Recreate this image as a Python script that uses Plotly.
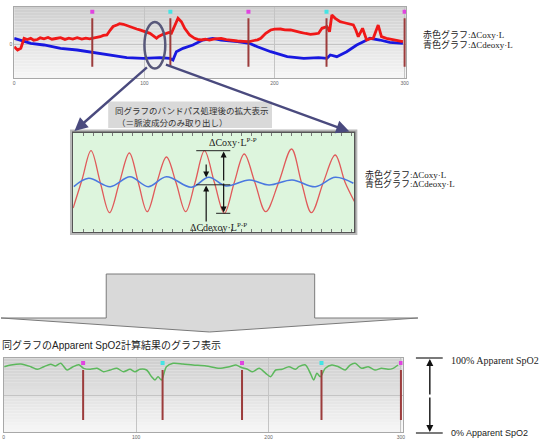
import plotly.graph_objects as go

W, H = 544, 441


def PX(x):
    return x / W


def PY(y):
    return 1 - y / H


# ---------------- data ----------------
event_x = [60, 120, 180, 240, 300]
event_kind = ["magenta", "cyan", "magenta", "cyan", "magenta"]

x_tick_vals = [0, 100, 200, 300]
x_tick_text = ["0", "100", "200", "300"]

# top chart: raw ΔCoxy·L (red) and ΔCdeoxy·L (blue)
top_red_x = [0, 2.6, 5.1, 7.6, 10, 12.7, 15, 17.8, 20, 22.9,
             26, 29, 32, 35.6, 39, 42, 45, 48.4, 52, 55,
             58, 60.6, 63, 66.1, 68.5, 71.2, 73.8, 76, 78.9, 81,
             83.9, 86, 89, 91.5, 94.1, 96.5, 99.2, 102, 104.3, 107,
             109.4, 111, 113.2, 115, 117, 119, 120.8, 123.3, 125.9, 128.5,
             131, 134.8, 138.6, 141, 143.7, 147, 150, 154, 159, 163,
             167, 171.6, 176, 180.6, 184.4, 187, 189.5, 193.3, 197.1, 200,
             204.7, 208, 212.4, 216, 220, 224, 227.6, 231, 233.9, 236.5,
             240.3, 242.3, 244.1, 246.7, 250.5, 253, 255.5, 258, 260.6, 262.5,
             264.4, 267.7, 270.8, 273, 275.9, 279.7, 282.2, 286, 289, 292.4,
             295.5, 298.7]
top_red_y = [-2.7, -6, -4.3, 5.7, 4.5, 5.7, 3.8, 4.5, 6.2, 5.2,
             6.5, 4.8, 5.5, 6.3, 4.6, 5.8, 5.0, 6.4, 4.9, 5.8,
             5.2, 5.7, 6.8, 7.3, 8.6, 9, 14, 17.5, 19, 20.3,
             19.7, 18.6, 17.3, 16.2, 15, 14.1, 13, 12.2, 10.7, 8.2,
             5.7, 7.5, 9, 10.2, 10.7, 11.5, 10.7, 19, 25.7, 22.3,
             15.7, 9, 5.7, 4.6, 4, 4.8, 4, 5.2, 5.7, 4.4,
             3.6, 3, 2.6, 2.3, 3.5, 4.2, 5.7, 10.7, 14, 14.8,
             15, 14.2, 14, 12.6, 11.7, 10.5, 9.7, 10.2, 10.7, 15.7,
             17.3, 12.3, 29, 25.7, 22.3, 21.5, 20.7, 19.8, 19, 14,
             7.3, 15.7, 4, 5.1, 5.7, 19, 7.3, 5.7, 4.8, 4,
             3.2, 2.3]
top_blue_x = [0, 7.6, 12.7, 22.9, 35.6, 48.4, 61, 73.8, 86.5, 99.2,
              111.9, 119.5, 122, 124.6, 129.7, 137.3, 144.9, 152.6, 159, 171.6,
              180.6, 186.9, 197.1, 209.8, 222.5, 233.9, 240.3, 242.9, 247.9, 255.5,
              263.2, 268.3, 273.4, 281, 288.6, 298.7]
top_blue_y = [5.7, 2.3, 0.7, -1, -4.3, -6, -8.3, -11, -13.7, -14.3,
              -13.7, -14.3, -16, -7.7, -4.3, -1, 4, 5.7, 4, 2.3,
              0.7, -2.7, -7.7, -12.7, -14.3, -13.7, -14.3, -11, -12.7, -7.7,
              -1, 2.3, 5.7, 4, 1.7, 0.7]

# middle chart: band-pass filtered pulse components
pulse_red_x = [0, 9, 18, 27.3, 36.6, 46.6, 56.6, 65.6, 74.6, 84.3,
               94, 103.6, 113.3, 122.8, 132.3, 142.3, 152.3, 162.3, 172.3, 183.1,
               194, 207, 220, 230, 240, 252, 264, 274, 283.3]
pulse_red_y = [-25.5, 3, 31.8, 0, -30.2, 0, 29.5, 0, -29.2, 0,
               25.5, 0, -29.2, 0, 31.8, 0, -30.8, 0, 28.5, 0,
               -29.2, 0, 33.5, 0, -30.2, 0, 27.5, 0, -19]
pulse_blue_x = [0.6, 15.6, 37.3, 57.3, 75.6, 94, 119, 136.6, 154, 177.3,
                197.3, 220.6, 244, 264, 282.3]
pulse_blue_y = [-4.2, 4.2, -4.2, 5.8, -4.2, 5.8, -4.8, 5.2, -3.5, 2.5,
                -2.5, 2.5, -4.2, 5.2, -0.8]

# bottom chart: Apparent SpO2 (%)
spo2_x = [0.5, 5.5, 13, 20.5, 25.5, 30.4, 35.5, 39.2, 43, 48,
          51.7, 56.7, 60.4, 65.4, 70.5, 75.4, 80.4, 85.5, 90.4, 95.4,
          99.2, 102.9, 107.9, 111.7, 114.2, 116.6, 119.2, 122.9, 127.9, 135.4,
          142.9, 152.9, 162.9, 170.4, 175.4, 179.2, 184.1, 187.9, 192.9, 197.9,
          201.6, 205.4, 210.3, 215.4, 220.4, 222.9, 227.9, 231.6, 234.1, 236.6,
          239.1, 242.9, 247.8, 252.8, 257.9, 261.6, 265.4, 270.3, 275.3, 280.4,
          285.3, 290.3, 294.1, 297.8]
spo2_y = [88.6, 90.9, 92.3, 88.6, 85.1, 88.6, 91.9, 89.6, 93.2, 84.1,
          87.8, 91.3, 86.4, 85.1, 86.4, 81.8, 84.1, 86.4, 81.8, 85.1,
          81.8, 85.1, 84.1, 75.0, 70.6, 75.0, 70.6, 88.6, 93.2, 92.3,
          90.9, 89.6, 86.4, 88.6, 90.9, 87.8, 85.1, 81.8, 86.4, 79.6,
          75.0, 84.1, 85.1, 88.6, 85.1, 88.6, 90.9, 79.6, 70.6, 79.6,
          75.0, 86.4, 90.9, 88.6, 84.1, 90.9, 93.2, 86.4, 88.6, 84.1,
          86.4, 85.1, 86.4, 90.9]

legend_lines = ["赤色グラフ:ΔCoxy·L", "青色グラフ:ΔCdeoxy·L"]
box_lines = ["同グラフのバンドパス処理後の拡大表示", "（＝脈波成分のみ取り出し）"]
bottom_title = "同グラフのApparent SpO2計算結果のグラフ表示"

# ---------------- styles ----------------
KIND_COLOR = {"magenta": "#e044e0", "cyan": "#44e4e4"}
EVENT_LINE = "#9c3c3c"
TOP_MARK_Y = 32.3
BOT_MARK_Y = 93.6
JP = "Noto Sans CJK JP"
SERIF = "Liberation Serif, Noto Sans CJK JP"
SANS = "Liberation Sans, Noto Sans CJK JP"

fig = go.Figure()

# top chart traces
fig.add_trace(go.Scatter(x=top_blue_x, y=top_blue_y, mode="lines",
                         line=dict(color="#1818e0", width=2.8),
                         xaxis="x", yaxis="y", hoverinfo="skip"))
fig.add_trace(go.Scatter(x=top_red_x, y=top_red_y, mode="lines",
                         line=dict(color="#f01818", width=2.8),
                         xaxis="x", yaxis="y", hoverinfo="skip"))
fig.add_trace(go.Scatter(x=event_x, y=[TOP_MARK_Y] * len(event_x), mode="markers",
                         marker=dict(symbol="square", size=4,
                                     color=[KIND_COLOR[k] for k in event_kind]),
                         xaxis="x", yaxis="y", hoverinfo="skip"))

# middle chart traces
fig.add_trace(go.Scatter(x=pulse_red_x, y=pulse_red_y, mode="lines",
                         line=dict(color="#e05a5a", width=1.3, shape="spline", smoothing=1.0),
                         xaxis="x2", yaxis="y2", hoverinfo="skip"))
fig.add_trace(go.Scatter(x=pulse_blue_x, y=pulse_blue_y, mode="lines",
                         line=dict(color="#4a78e0", width=1.6, shape="spline", smoothing=1.0),
                         xaxis="x2", yaxis="y2", hoverinfo="skip"))

# bottom chart traces
fig.add_trace(go.Scatter(x=spo2_x, y=spo2_y, mode="lines",
                         line=dict(color="#5cb85c", width=1.5, shape="spline", smoothing=0.8),
                         xaxis="x3", yaxis="y3", hoverinfo="skip"))
fig.add_trace(go.Scatter(x=event_x, y=[BOT_MARK_Y] * len(event_x), mode="markers",
                         marker=dict(symbol="square", size=4,
                                     color=[KIND_COLOR[k] for k in event_kind]),
                         xaxis="x3", yaxis="y3", hoverinfo="skip"))

shapes = []

# gradient backgrounds for top and bottom charts
N = 24
for xr, yr in (("x domain", "y domain"), ("x3 domain", "y3 domain")):
    for i in range(N):
        t = (i + 0.5) / N  # 0 bottom -> 1 top
        g = int(round(246 - (246 - 206) * t))
        shapes.append(dict(type="rect", xref=xr, yref=yr, x0=0, x1=1,
                           y0=i / N, y1=(i + 1) / N, layer="below",
                           line=dict(width=0), fillcolor=f"rgb({g},{g},{g})"))

# middle chart fill and outer frame
shapes.append(dict(type="rect", xref="x2 domain", yref="y2 domain", x0=0, x1=1, y0=0, y1=1,
                   layer="below", line=dict(width=0), fillcolor="#ddf5dd"))
shapes.append(dict(type="rect", xref="paper", yref="paper",
                   x0=PX(70.5), x1=PX(358), y0=PY(234), y1=PY(130.5),
                   line=dict(color="#b8b8b8", width=2)))

# event lines
for e in event_x:
    shapes.append(dict(type="line", xref="x", yref="y domain", x0=e, x1=e,
                       y0=0.162, y1=0.838, line=dict(color=EVENT_LINE, width=2)))
    shapes.append(dict(type="line", xref="x3", yref="y3 domain", x0=e, x1=e,
                       y0=0.163, y1=0.841, line=dict(color=EVENT_LINE, width=2)))

# ellipse around the zoomed region
shapes.append(dict(type="circle", xref="paper", yref="paper",
                   x0=PX(144.5), x1=PX(165.5), y0=PY(68.5), y1=PY(22),
                   line=dict(color="#58587a", width=2.5)))

# caption box
shapes.append(dict(type="rect", xref="paper", yref="paper",
                   x0=PX(108), x1=PX(273), y0=PY(128), y1=PY(101.5),
                   line=dict(width=0), fillcolor="#d9d9d9"))

# peak-to-peak reference lines in the middle chart
for (xa, xb, yy) in ((196.7, 231, 150.7), (216.7, 231, 213.3), (196.7, 231, 184.8)):
    shapes.append(dict(type="line", xref="paper", yref="paper",
                       x0=PX(xa), x1=PX(xb), y0=PY(yy), y1=PY(yy),
                       line=dict(color="#222", width=1)))

# big down arrow
pts = [(0, 318), (106, 318), (106, 274), (316, 274), (316, 318), (420, 318), (210, 332)]
path = "M " + " L ".join(f"{PX(a):.5f},{PY(b):.5f}" for a, b in pts) + " Z"
shapes.append(dict(type="path", xref="paper", yref="paper", path=path,
                   fillcolor="#d9d9d9", line=dict(color="#7a7a7a", width=1)))

# SpO2 scale lines
for yy in (358, 433):
    shapes.append(dict(type="line", xref="paper", yref="paper",
                       x0=PX(418), x1=PX(445), y0=PY(yy), y1=PY(yy),
                       line=dict(color="#222", width=1.2)))

annotations = []


def arrow(xh, yh, xt, yt, color="#111", width=1.2, size=1.0, head=2):
    annotations.append(dict(xref="paper", yref="paper", x=PX(xh), y=PY(yh),
                            ax=xt - xh, ay=yt - yh, text="", showarrow=True,
                            arrowhead=head, arrowsize=size, arrowwidth=width,
                            arrowcolor=color))


def label(x, y, text, size, family, color="#222", xanchor="left"):
    annotations.append(dict(xref="paper", yref="paper", x=PX(x), y=PY(y), text=text,
                            showarrow=False, xanchor=xanchor, yanchor="middle",
                            font=dict(size=size, family=family, color=color)))


# connector arrows from ellipse to zoomed chart
arrow(74, 131, 148, 66, color="#4a4a7e", width=2.4, size=1.1)
arrow(351, 131.5, 166, 64, color="#4a4a7e", width=2.4, size=1.1)

# peak-to-peak arrows
arrow(224.3, 151.5, 224.3, 182)
arrow(224.3, 212.5, 224.3, 182)
arrow(206.7, 177.5, 206.7, 163)
arrow(206.7, 185.5, 206.7, 223)

# SpO2 double arrow
arrow(432, 359, 432, 396, width=1.4)
arrow(432, 432, 432, 396, width=1.4)

# texts
label(423.5, 35, legend_lines[0], 9, SERIF)
label(423.5, 44.3, legend_lines[1], 9, SERIF)
label(365, 175, legend_lines[0], 9, SERIF)
label(365, 184, legend_lines[1], 9, SERIF)
label(191.5, 110, box_lines[0], 8.5, JP, color="#333", xanchor="center")
label(173, 122, box_lines[1], 8.5, JP, color="#333", xanchor="center")
label(208, 141.7, "ΔCoxy·L<sup>P-P</sup>", 10, SERIF)
label(188, 226.7, "ΔCdexoy·L<sup>P-P</sup>", 10, SERIF)
label(-1, 345, bottom_title, 10, SANS)
label(451.5, 360.7, "100% Apparent SpO2", 10, SERIF)
label(451.5, 433, "0% Apparent SpO2", 9, SANS)

tickfont = dict(size=5, color="#666", family="Liberation Sans")
fig.update_layout(
    width=W, height=H, margin=dict(l=0, r=0, t=0, b=0),
    paper_bgcolor="white", plot_bgcolor="rgba(0,0,0,0)", showlegend=False,
    xaxis=dict(domain=[PX(13.3), PX(408.3)], range=[0, 301.3], anchor="y",
               tickvals=x_tick_vals, ticktext=x_tick_text, tickfont=tickfont,
               showgrid=True, gridcolor="#c4c4c4", gridwidth=1, zeroline=False,
               showline=True, linecolor="#a8a8a8", mirror=True, ticks=""),
    yaxis=dict(domain=[PY(78.3), PY(6.7)], range=[-34.3, 37.3], anchor="x",
               tickvals=[0], ticktext=["0"], tickfont=tickfont,
               showgrid=True, gridcolor="#c4c4c4", zeroline=False,
               showline=True, linecolor="#a8a8a8", mirror=True, ticks=""),
    xaxis2=dict(domain=[PX(72.7), PX(356)], range=[0, 283.3], anchor="y2",
                showgrid=False, zeroline=False, showticklabels=False,
                showline=True, linecolor="#555", linewidth=1.5, mirror="ticks",
                ticks="inside", ticklen=3, tickcolor="#777", tick0=0, dtick=10),
    yaxis2=dict(domain=[PY(231.7), PY(132.7)], range=[-49.2, 49.8], anchor="x2",
                showgrid=False, zeroline=False, showticklabels=False,
                showline=True, linecolor="#555", linewidth=1.5, mirror=True, ticks=""),
    xaxis3=dict(domain=[PX(2.7), PX(404.5)], range=[0, 301.2], anchor="y3",
                tickvals=x_tick_vals, ticktext=x_tick_text, tickfont=tickfont,
                showgrid=True, gridcolor="#c4c4c4", zeroline=False,
                showline=True, linecolor="#a8a8a8", mirror=True, ticks=""),
    yaxis3=dict(domain=[PY(432), PY(358.3)], range=[0, 100], anchor="x3",
                tickvals=[50], showticklabels=False,
                showgrid=True, gridcolor="#c4c4c4", zeroline=False,
                showline=True, linecolor="#a8a8a8", mirror=True, ticks=""),
    shapes=shapes, annotations=annotations,
)

fig.write_html(
    "out.html",
    config={"staticPlot": True},
    post_script="document.body.style.margin='0';document.body.style.padding='0';"
                "document.body.style.overflow='hidden';",
)
